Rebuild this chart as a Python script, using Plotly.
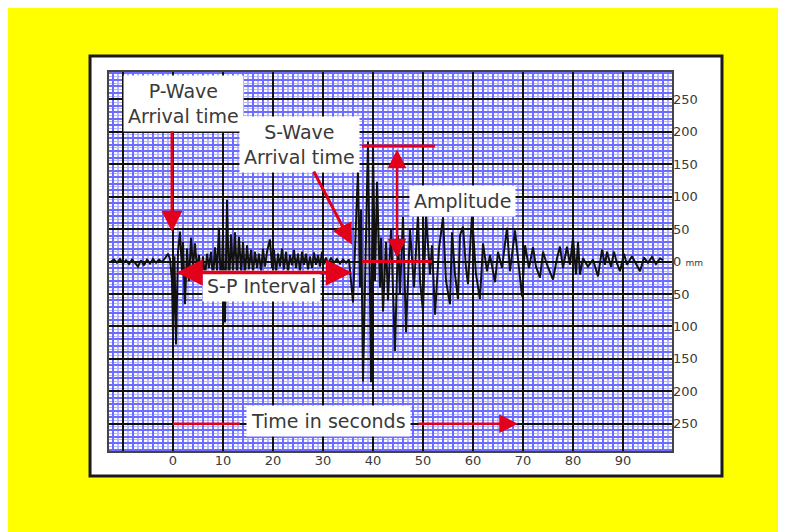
import plotly.graph_objects as go

# ---------------- data ----------------
# background noise before the P arrival
noise_time_s = [-12.4, -11.8, -11.2, -10.6, -10.0, -9.4, -8.8, -8.2, -7.6, -7.0,
                -6.4, -5.8, -5.2, -4.6, -4.0, -3.4, -2.8, -2.2, -1.6, -1.0, -0.6]
noise_amp_mm = [0, 3, -2, 4, -3, 2, -4, 3, -2, -8,
                2, -6, 3, -3, 4, -2, 3, -1, 5, 12, 4]

# P-wave train
p_time_s = [-0.2, 0.0, 0.3, 0.6, 1.0, 1.4, 1.8, 2.0, 2.4, 2.8, 3.2, 3.6, 4.0, 4.4,
            4.8, 5.2, 5.6, 6.0, 6.4, 6.8, 7.2, 7.6, 8.0, 8.4, 8.8, 9.2, 9.6, 10.0,
            10.4, 10.8, 11.2, 11.6, 12.0, 12.4, 12.8, 13.2, 13.6, 14.0, 14.4, 14.8,
            15.2, 15.6, 16.0, 16.4, 16.8, 17.2, 17.6, 18.0, 18.4, 18.8, 19.4, 19.8,
            20.2, 20.6, 21.0, 21.4, 21.8, 22.2, 22.6, 23.0, 23.4, 23.8, 24.2, 24.6,
            25.0, 25.4, 25.8, 26.2, 26.6, 27.0, 27.4, 27.8, 28.2, 28.6, 29.0, 29.4,
            29.8, 30.2, 30.6, 31.0, 31.6, 32.2, 32.8, 33.4, 34.0, 34.6, 35.2]
p_amp_mm = [-30, -112, 8, -128, 15, 46, -15, 30, -66, 20, -30, 37, -10, 28,
            -12, 10, -22, 8, -25, 12, -10, 15, -28, 22, -15, 52, -50, 45,
            -94, 95, -40, 42, -20, 45, -25, 38, -15, 30, -20, 25,
            -12, 18, -17, 15, -10, 12, -15, 20, -8, 15, 34, -10,
            18, -17, 12, -8, 20, -12, 15, -17, 10, -6, 18, -10,
            12, -15, 15, -5, 12, -12, 8, -10, 14, -5, 10, -8,
            15, -4, 6, -3, 5, -2, 4, -3, 3, -2, 3]

# S-wave train and coda
s_time_s = [36.0, 36.4, 37.0, 37.4, 37.6, 38.0, 38.6, 39.0, 39.4, 39.6, 40.0, 40.4,
            40.8, 41.4, 41.6, 42.0, 42.6, 43.0, 43.6, 44.4, 45.0, 45.4, 46.0, 46.6,
            47.4, 48.2, 49.0, 49.4, 50.0, 50.6, 51.4, 51.8, 52.4, 53.2, 54.0, 54.6,
            55.4, 55.8, 56.4, 57.0, 57.4, 58.0, 58.6, 59.0, 59.8, 60.6, 61.4, 62.0,
            62.8, 63.4, 64.4, 65.0, 65.8, 66.8, 67.4, 68.4, 69.2, 69.8, 70.4, 71.2,
            72.0, 72.6, 73.4, 74.0, 74.8, 76.0, 76.8, 77.4, 78.0, 78.8, 79.4, 80.0,
            80.6, 81.0, 81.4, 82.0, 83.0, 84.0, 85.0, 85.8, 86.4, 86.8, 87.6, 88.2,
            88.8, 89.4, 90.2, 90.8, 91.8, 92.6, 93.4, 94.2, 95.0, 95.8, 96.6, 97.4, 98.0]
s_amp_mm = [-63, 20, 141, -40, 80, -185, 30, 185, -50, -186, 177, -30,
            123, -40, 37, -77, 30, -60, 50, -138, 40, -50, 69, -109,
            50, -40, 72, -30, -77, 72, -20, 25, -82, 20, 68, -30,
            -66, 45, -20, -58, 40, 54, -10, -35, 72, -20, -58, 28,
            -15, 10, -32, 15, -10, 52, -15, 48, -10, -54, 25, -10,
            22, -8, -25, 15, -5, -28, 5, 23, -10, 23, -5, 37,
            -20, 30, -20, 5, -8, 3, -23, 18, -5, 15, -8, 15,
            -3, -15, 12, -5, 8, -3, -15, 6, -2, 7, -4, 5, 2]

x_tick_values = [-10, 0, 10, 20, 30, 40, 50, 60, 70, 80, 90]
x_tick_labels = ["", "0", "10", "20", "30", "40", "50", "60", "70", "80", "90"]
y_tick_values = [-250, -200, -150, -100, -50, 0, 50, 100, 150, 200, 250]
y_tick_labels = ["250", "200", "150", "100", "50",
                 "0 <span style='font-size:9px'>mm</span>",
                 "50", "100", "150", "200", "250"]

time_s = noise_time_s + p_time_s + s_time_s
amp_mm = noise_amp_mm + p_amp_mm + s_amp_mm

# ---------------- styles ----------------
RED = "#e2001a"
BLACK = "#111111"
BLUE = "#6c6cff"
LIGHT_BLUE = "#b6b6ff"
TXT = "#3a3a3a"
FONT = "DejaVu Sans"
X_RANGE = [-12.8, 99.8]
Y_RANGE = [-292, 292]

fig = go.Figure()
fig.add_trace(go.Scatter(x=time_s, y=amp_mm, mode="lines",
                         line=dict(color=BLACK, width=2),
                         showlegend=False, hoverinfo="skip"))
fig.add_trace(go.Scatter(x=[], y=[], xaxis="x2", yaxis="y2", showlegend=False))

common = dict(zeroline=False, fixedrange=True, ticks="")
fig.update_layout(
    width=786, height=532,
    margin=dict(l=101, r=122, t=64, b=89, pad=0),
    paper_bgcolor="#ffff00",
    plot_bgcolor="#ffffff",
    showlegend=False,
    # fine paper grid (blue every 2 s / 10 mm, pale in between)
    xaxis=dict(range=X_RANGE, tickmode="linear", tick0=0, dtick=2,
               showgrid=True, gridcolor=BLUE, gridwidth=1.7,
               minor=dict(tickmode="linear", tick0=0, dtick=1, showgrid=True,
                          gridcolor=LIGHT_BLUE, gridwidth=1.7),
               showticklabels=False, showline=True, linecolor="#444",
               linewidth=1.5, mirror=True, **common),
    yaxis=dict(range=Y_RANGE, tickmode="linear", tick0=0, dtick=10,
               showgrid=True, gridcolor=BLUE, gridwidth=1.5,
               minor=dict(tickmode="linear", tick0=0, dtick=5, showgrid=True,
                          gridcolor=LIGHT_BLUE, gridwidth=1.2),
               showticklabels=False, showline=True, linecolor="#444",
               linewidth=1.5, mirror=True, **common),
    # labelled black grid (every 10 s / 50 mm)
    xaxis2=dict(range=X_RANGE, overlaying="x", anchor="y", side="bottom",
                tickmode="array", tickvals=x_tick_values, ticktext=x_tick_labels,
                showgrid=True, gridcolor=BLACK, gridwidth=2.2,
                tickfont=dict(family=FONT, size=13, color=TXT), **common),
    yaxis2=dict(range=Y_RANGE, overlaying="y", anchor="x", side="right",
                tickmode="array", tickvals=y_tick_values, ticktext=y_tick_labels,
                showgrid=True, gridcolor=BLACK, gridwidth=2.2,
                tickfont=dict(family=FONT, size=13, color=TXT), **common),
)

# white card with dark frame behind the chart
fig.add_shape(type="rect", xref="paper", yref="paper", layer="below",
              x0=-0.0337, x1=1.0888, y0=-0.066, y1=1.0422,
              fillcolor="white", line=dict(color="#1a1a1a", width=3))

# text boxes
def label(x, y, text):
    fig.add_annotation(x=x, y=y, xref="x", yref="y", text=text, showarrow=False,
                       bgcolor="white", borderpad=4,
                       font=dict(family=FONT, size=19, color=TXT))

label(2.0, 244, "P-Wave<br>Arrival time")
label(25.2, 180, "S-Wave<br>Arrival time")
label(57.8, 94, "Amplitude")
label(17.6, -38, "S-P Interval")
label(31.0, -246, "Time in seconds")

# red arrows
def arrow(x, y, ax, ay, width=3, size=1.4, both=False):
    fig.add_annotation(x=x, y=y, ax=ax, ay=ay, xref="x", yref="y",
                       axref="x", ayref="y", text="", showarrow=True,
                       arrowhead=2, arrowsize=size, arrowwidth=width,
                       arrowcolor=RED, startarrowhead=2, startarrowsize=size,
                       arrowside="end+start" if both else "end")

arrow(-0.2, 46, -0.2, 203)                                   # P arrival
arrow(35.8, 26, 28.0, 141)                                   # S arrival
arrow(35.8, -17, 0.4, -17, width=3.5, size=1.5, both=True)   # S-P interval
arrow(44.8, 6, 44.8, 175, width=2.5, size=1.5, both=True)    # amplitude
arrow(69.0, -250, 48.8, -250, width=2.5, size=1.5)           # time

for (x0, y0, x1, y1, w) in [(37.8, 178, 52.4, 178, 3), (37.8, 0, 51.8, 0, 3),
                            (0.0, -250, 13.4, -250, 2.5)]:
    fig.add_shape(type="line", xref="x", yref="y", x0=x0, y0=y0, x1=x1, y1=y1,
                  line=dict(color=RED, width=w))

fig.write_html("out.html")
